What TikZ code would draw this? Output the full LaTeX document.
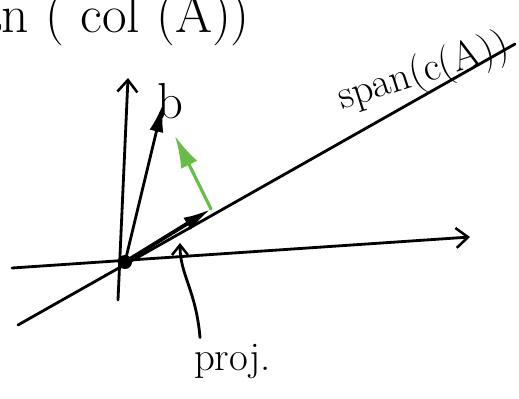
\documentclass[tikz,border=0pt]{standalone}
\usetikzlibrary{arrows.meta}
\definecolor{vert}{RGB}{104,188,72}
\tikzset{
  trait/.style={line width=4pt, line cap=round, line join=round},
  axe/.style={trait, -{Straight Barb[length=6mm,width=10mm,line width=3.6pt]}},
  vecteur/.style={trait, -{Latex[length=14mm,width=7mm]}},
  ecrit/.style={font=\fontsize{58}{60}\selectfont, inner sep=0pt}
}
\begin{document}
\begin{tikzpicture}[x=0.5mm,y=-0.5mm]
                \useasboundingbox (0,0) rectangle (519,398);
                % Points
                \coordinate (O) at (125,262);
                \coordinate (P) at (211,209);
                \coordinate (B) at (163,104);
                \coordinate (Xg) at (12,268);
                \coordinate (Xd) at (470,237);
                \coordinate (Yb) at (118,300);
                \coordinate (Yh) at (128,78);
                \coordinate (Sg) at (18,325);
                \coordinate (Sd) at (515,44);
                \coordinate (G) at (175,136);
                \coordinate (Q) at (180,243);
                % Axes
                \draw[axe] (Xg) -- (Xd);
                \draw[axe] (Yb) -- (Yh);
                % Droite span
                \draw[trait] (Sg) -- (Sd);
                % Vecteurs
                \draw[vecteur] (O) -- (B);
                \draw[vecteur, line width=5.5pt] (O) -- (P);
                \draw[vecteur, vert, line width=4.5pt, -{Latex[length=16mm,width=9mm]}] (P) -- (G);
                \fill (O) circle (7);
                % Textes
                \node[ecrit, font=\fontsize{76}{78}\selectfont, anchor=base east] (titre) at (250,32) {span ( col (A))};
                \node[ecrit, font=\fontsize{72}{74}\selectfont, anchor=base] (b) at (170,118) {b};
                \node[ecrit, anchor=base west, rotate=18] (span) at (342,110) {span(c(A))};
                \node[ecrit, anchor=base west] (proj) at (194,370) {proj.};
                \draw[trait, -{Straight Barb[length=5mm,width=8mm,line width=3.6pt]}] (proj.north west) ++(6,-6) .. controls (196,290) and (180,275) .. (Q);
\end{tikzpicture}
\end{document}
